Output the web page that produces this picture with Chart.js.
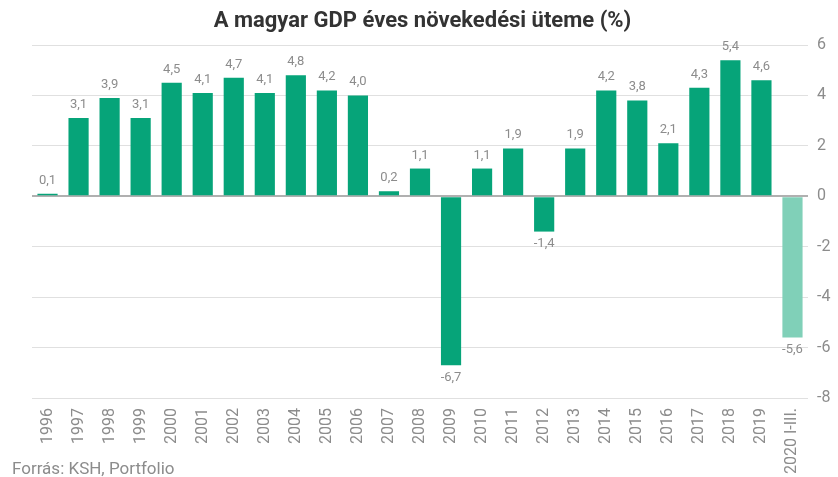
<!DOCTYPE html>
<html><head><meta charset="utf-8">
<script src="https://cdn.jsdelivr.net/npm/chart.js@4"></script>
<style>html,body{margin:0;padding:0;background:#fff}#wrap{width:838px;height:477px}</style>
</head><body><div id="wrap"><canvas id="c" width="838" height="477"></canvas></div>
<script>
const categories = ['1996','1997','1998','1999','2000','2001','2002','2003','2004','2005','2006','2007','2008','2009','2010','2011','2012','2013','2014','2015','2016','2017','2018','2019','2020 I-III.'];
const growth = [0.1,3.1,3.9,3.1,4.5,4.1,4.7,4.1,4.8,4.2,4.0,0.2,1.1,-6.7,1.1,1.9,-1.4,1.9,4.2,3.8,2.1,4.3,5.4,4.6,-5.6];
const yTickValues = [-8,-6,-4,-2,0,2,4,6];
const titleText = 'A magyar GDP éves növekedési üteme (%)';
const sourceText = 'Forrás: KSH, Portfolio';

const mainColor = '#06a479';
const lightColor = '#80d0b8';
const barColors = categories.map((c,i) => i === categories.length - 1 ? lightColor : mainColor);

const valueLabels = {
  id: 'valueLabels',
  afterDatasetsDraw(chart) {
    const ctx = chart.ctx;
    const meta = chart.getDatasetMeta(0);
    ctx.save();
    ctx.font = '13px Roboto';
    ctx.fillStyle = '#8c8c8c';
    ctx.textAlign = 'center';
    meta.data.forEach((bar, i) => {
      const v = growth[i];
      const txt = v.toFixed(1).replace('.', ',');
      if (v >= 0) { ctx.textBaseline = 'alphabetic'; ctx.fillText(txt, bar.x, bar.y - 10); }
      else { ctx.textBaseline = 'top'; ctx.fillText(txt, bar.x, bar.y + 6); }
    });
    ctx.restore();
  }
};

const footer = {
  id: 'footer',
  afterDraw(chart) {
    const ctx = chart.ctx;
    ctx.save();
    ctx.font = '17px Roboto';
    ctx.fillStyle = '#8c8c8c';
    ctx.textAlign = 'left';
    ctx.textBaseline = 'alphabetic';
    ctx.fillText(sourceText, 12, 474);
    ctx.restore();
  }
};

new Chart(document.getElementById('c'), {
  type: 'bar',
  data: {
    labels: categories,
    datasets: [{ data: growth, backgroundColor: barColors, borderWidth: 0, barPercentage: 0.65, categoryPercentage: 1.0, yAxisID: 'y' }]
  },
  options: {
    responsive: false,
    animation: false,
    devicePixelRatio: 1,
    layout: { padding: { left: 7, right: 0, top: 0, bottom: 0 } },
    plugins: {
      legend: { display: false },
      tooltip: { enabled: false },
      title: { display: true, text: titleText, color: '#333333', font: { family: 'Roboto', size: 22, weight: 'bold' }, padding: { top: 8, bottom: 10.6 } }
    },
    scales: {
      x: {
        offset: true,
        grid: { display: false, drawTicks: false },
        border: { display: false },
        ticks: { autoSkip: false, maxRotation: 90, minRotation: 90, padding: 10, color: '#8c8c8c', font: { family: 'Roboto', size: 16 } },
        afterFit(scale) { scale.height = 79; }
      },
      y: {
        position: 'right',
        min: -8, max: 6,
        afterBuildTicks(scale) { scale.ticks = yTickValues.map(v => ({ value: v })); },
        grid: { drawTicks: false, color: ctx => (ctx.tick && ctx.tick.value === 0) ? '#b0b0b0' : '#e0e0e0', lineWidth: ctx => (ctx.tick && ctx.tick.value === 0) ? 2 : 1 },
        border: { display: false },
        ticks: { padding: 9, color: '#8c8c8c', font: { family: 'Roboto', size: 16 } },
        afterFit(scale) { scale.width = 30; }
      },
      spacer: {
        type: 'linear',
        position: 'left',
        display: true,
        grid: { display: false, drawTicks: false },
        border: { display: false },
        ticks: { display: false },
        afterFit(scale) { scale.width = 25; }
      }
    }
  },
  plugins: [valueLabels, footer]
});
</script>
</body></html>
